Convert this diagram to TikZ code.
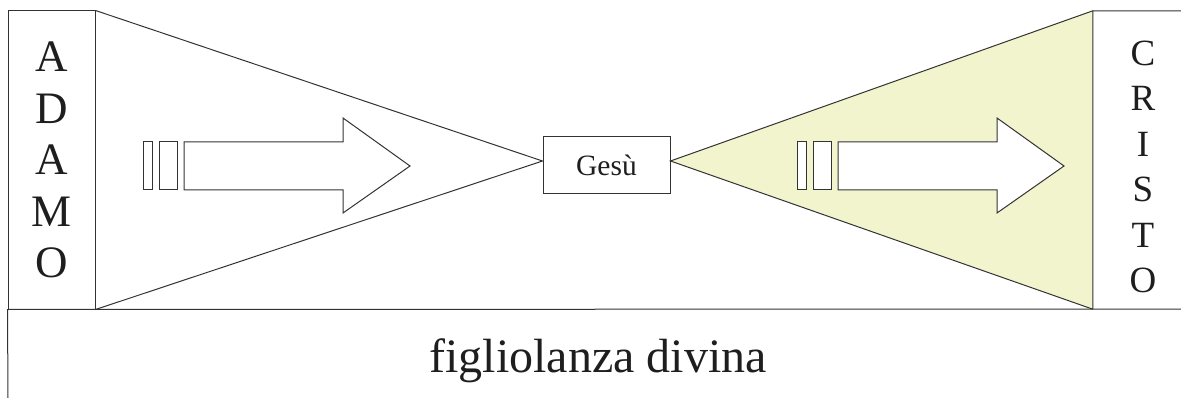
\documentclass[tikz,border=0pt]{standalone}
\usepackage{fontspec}
\setmainfont{Liberation Serif}
\definecolor{linegray}{HTML}{333333}
\definecolor{inkblack}{HTML}{1E1E1E}
\definecolor{paleyellow}{HTML}{F2F4CE}
\begin{document}
\begin{tikzpicture}[x=1pt,y=-1pt,
  outline/.style={draw=linegray,line width=1pt,line join=miter},
  namebox/.style={rectangle,minimum width=87pt,minimum height=298pt,inner sep=0pt},
  letters/.style={text=inkblack,align=center,inner sep=0pt},
  centerbox/.style={outline,rectangle,fill=white,minimum width=127pt,minimum height=57pt,inner sep=0pt,
    text=inkblack,font=\fontsize{29.5}{32}\selectfont},
  pics/bigarrow/.style={code={
    \draw[outline,fill=white] (0,-24) rectangle (9,24);
    \draw[outline,fill=white] (16,-24) rectangle (34,24);
    \draw[outline,fill=white] (41,-24) -- (200,-24) -- (200,-48) -- (267,0)
      -- (200,47) -- (200,24) -- (41,24) -- cycle;
  }}]
\useasboundingbox (0,0) rectangle (1181,398);

% side boxes and central box
\node[namebox,outline] (adamo) at (51.5,160) {};
\node[namebox,minimum width=88pt] (cristo) at (1137,160) {};
\node[centerbox] (gesu) at (606.5,165.5) {Gesù};

% apexes of the two wedges
\coordinate (lapex) at ([yshift=4.5pt]gesu.west);
\coordinate (rapex) at ([yshift=4.5pt]gesu.east);

% left wedge (open) and right wedge (tinted)
\draw[outline] (adamo.north east) -- (lapex) -- (adamo.south east);
\draw[outline,fill=paleyellow] (cristo.north west) -- (rapex) -- (cristo.south west);

% frame of the right box and baseline band
\coordinate (topright) at (1181,11);
\coordinate (baseright) at (1181,309);
\coordinate (leftfoot) at (8,398);
\draw[outline] (topright) -- (cristo.north west) -- (cristo.south west);
\draw[outline] (leftfoot) -- (adamo.south west) -- (baseright);

% the two block arrows
\pic at (143,166) {bigarrow};
\pic at (797,166) {bigarrow};

% vertical names
\node[letters,font=\fontsize{45}{51.5}\selectfont] (adamotext) at (51.5,160) {A\\D\\A\\M\\O};
\node[letters,font=\fontsize{37}{45.5}\selectfont] (cristotext) at (1143,167) {C\\R\\I\\S\\T\\O};

% caption of the band
\node[text=inkblack,anchor=base,inner sep=0pt,font=\fontsize{48}{54}\selectfont] (caption) at (598,372) {figliolanza divina};
\end{tikzpicture}
\end{document}
